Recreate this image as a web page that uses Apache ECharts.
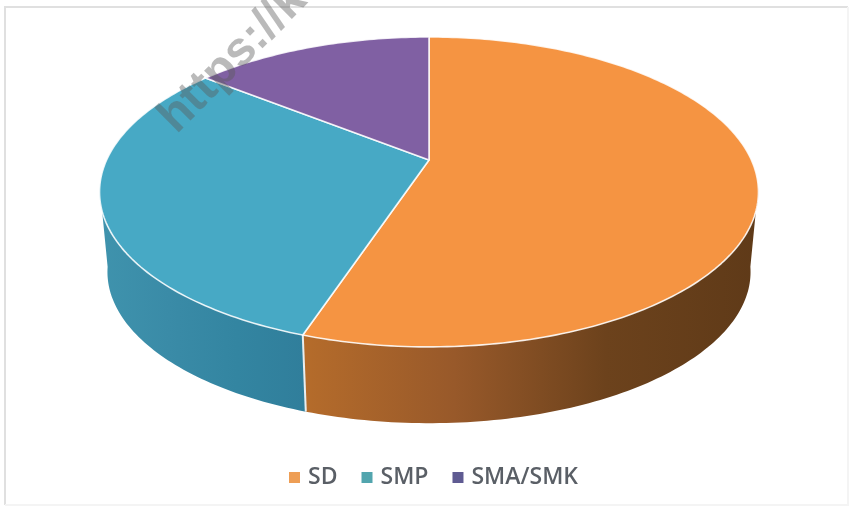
<!DOCTYPE html>
<html>
<head>
<meta charset="utf-8">
<style>
html, body { margin: 0; padding: 0; background: #fff; }
#main { width: 852px; height: 509px; filter: blur(0.7px); }
</style>
<script src="https://cdn.jsdelivr.net/npm/echarts@6/dist/echarts.min.js"></script>
</head>
<body>
<div id="main"></div>
<script>
var categories = ['SD', 'SMP', 'SMA/SMK'];
var values = [55.1, 30.6, 14.3];
var topColors = ['#F59442', '#47A9C5', '#8060A3'];
var legendColors = ['#EE9E55', '#52A5AE', '#5F5B92'];
var wallColors = [
    ['#B56C2B', '#98592A', '#6C421C', '#5F3A18'],
    ['#3F93AD', '#3A8BA7', '#3385A1', '#307E9B']
];

// the tilted disc: unit circle -> screen, with a bit of perspective
var centerX = 429, centerY = 160, spreadX = 322.4, spreadY = 148.4, depth = 0.206;
// the lower rim shrinks towards a far vanishing point
var vanishY = 3525, rimScale = 0.976;

function topPoint(angle) {
    var r = angle * Math.PI / 180;
    var u = Math.sin(r), v = -Math.cos(r);
    var w = 1 - depth * v;
    return [centerX + spreadX * u / w, centerY + spreadY * v / w];
}

function lowerPoint(angle) {
    var p = topPoint(angle);
    return [centerX + rimScale * (p[0] - centerX), vanishY + rimScale * (p[1] - vanishY)];
}

function arc(from, to, fn) {
    var pts = [];
    var steps = Math.max(2, Math.ceil(Math.abs(to - from)));
    for (var i = 0; i <= steps; i++) {
        pts.push(fn(from + (to - from) * i / steps));
    }
    return pts;
}

var total = values.reduce(function (a, b) { return a + b; }, 0);

function renderSlice(params, api) {
    var idx = params.seriesIndex;
    var sum = 0;
    for (var i = 0; i < idx; i++) sum += values[i];
    var start = sum / total * 360;
    var end = start + api.value(0) / total * 360;
    var children = [];

    // front wall, only the part facing us
    var wallFrom = Math.max(start, 100), wallTo = Math.min(end, 260);
    if (wallFrom < wallTo) {
        var stops = wallColors[idx];
        children.push({
            type: 'polygon',
            z2: 1,
            shape: {
                points: arc(wallFrom, wallTo, topPoint).concat(arc(wallTo, wallFrom, lowerPoint))
            },
            style: {
                fill: {
                    type: 'linear', x: 0, y: 0, x2: 1, y2: 0,
                    colorStops: stops.map(function (c, k) {
                        return { offset: k / (stops.length - 1), color: c };
                    })
                }
            }
        });
        if (wallTo < 260) {
            children.push({
                type: 'line',
                z2: 2,
                shape: {
                    x1: topPoint(wallTo)[0], y1: topPoint(wallTo)[1],
                    x2: lowerPoint(wallTo)[0], y2: lowerPoint(wallTo)[1]
                },
                style: { stroke: '#E8EEF0', lineWidth: 2 }
            });
        }
    }

    // top face
    children.push({
        type: 'polygon',
        z2: 3,
        shape: { points: [[centerX, centerY]].concat(arc(start, end, topPoint)) },
        style: { fill: topColors[idx], stroke: 'rgba(255,255,255,0.85)', lineWidth: 1.6, lineJoin: 'round' }
    });

    return { type: 'group', children: children };
}

var chartDom = document.getElementById('main');
var myChart = echarts.init(chartDom);

var option = {
    animation: false,
    backgroundColor: '#fff',
    legend: {
        left: 284,
        top: 461,
        itemWidth: 11,
        itemHeight: 11,
        itemGap: 24,
        icon: 'rect',
        textStyle: { color: '#5A5F66', fontSize: 23, fontFamily: 'Open Sans', fontWeight: 600, padding: [0, 0, 0, 3] },
        data: categories.map(function (name, i) {
            return { name: name, itemStyle: { color: legendColors[i] } };
        })
    },
    series: categories.map(function (name, i) {
        return {
            type: 'custom',
            name: name,
            coordinateSystem: 'none',
            silent: true,
            itemStyle: { color: topColors[i] },
            renderItem: renderSlice,
            data: [values[i]]
        };
    }),
    graphic: [
        {
            type: 'polyline',
            z: 0,
            silent: true,
            shape: { points: [[5, 505], [5, 7], [848, 7]] },
            style: { fill: 'none', stroke: '#E0E0E0', lineWidth: 2 }
        },
        {
            type: 'polyline',
            z: 0,
            silent: true,
            shape: { points: [[848, 7], [848, 505], [5, 505]] },
            style: { fill: 'none', stroke: '#F4F4F4', lineWidth: 2 }
        },
        {
            type: 'text',
            z: 100,
            silent: true,
            x: 184,
            y: 142,
            rotation: 45 * Math.PI / 180,
            style: {
                text: 'https://k',
                fontSize: 48,
                fontWeight: 'bold',
                fontFamily: 'Liberation Sans',
                fill: 'rgba(90,90,90,0.42)',
                textVerticalAlign: 'bottom'
            }
        }
    ]
};

option && myChart.setOption(option);
</script>
</body>
</html>
